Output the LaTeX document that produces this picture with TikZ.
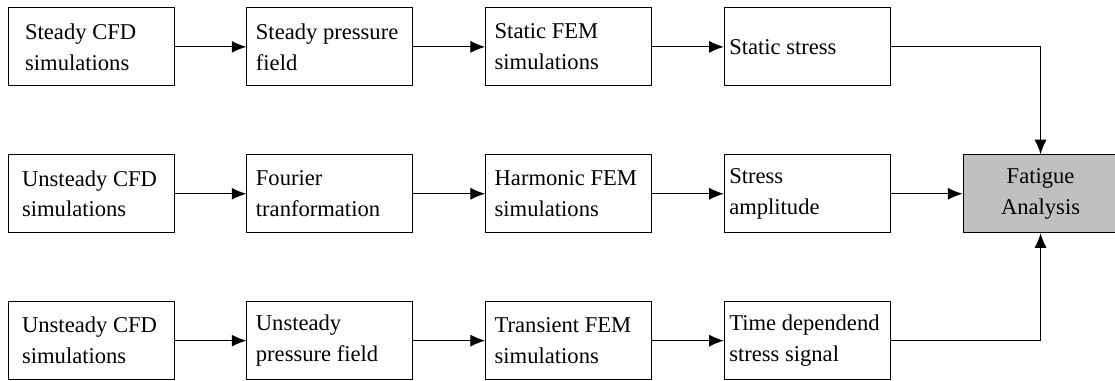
\documentclass[tikz,border=0pt]{standalone}
\usepackage{fontspec}
\setmainfont{Liberation Serif}
\usetikzlibrary{positioning,arrows.meta}
\definecolor{fatiguegray}{RGB}{192,192,192}

\tikzset{
  stage/.style={draw, line width=0.75pt, minimum height=2.06cm, align=flush left,
    inner ysep=0pt, inner xsep=#1, text width=4.39cm-2*#1,
    font=\fontsize{17}{23.25}\selectfont},
  stage/.default=0.24cm,
  flow/.style={-{Latex[length=11pt,width=9pt]}, line width=0.75pt}
}

\begin{document}
\begin{tikzpicture}[node distance=1.8cm and 1.9cm]
\useasboundingbox (0,0) rectangle (29.5,-10.08);

% steady row
\node[stage=0.45cm] (cfdA) at (2.41,-1.24) {Steady CFD\\simulations};
\node[stage, right=of cfdA] (pressA) {Steady pressure\\field};
\node[stage, right=of pressA] (femA) {Static FEM\\simulations};
\node[stage=0.13cm, right=of femA] (stressA) {Static stress};

% harmonic row
\node[stage=0.37cm, below=of cfdA] (cfdB) {Unsteady CFD\\simulations};
\node[stage, below=of pressA] (fourierB) {Fourier\\tranformation};
\node[stage, below=of femA] (femB) {Harmonic FEM\\simulations};
\node[stage=0.13cm, below=of stressA] (stressB) {Stress\\amplitude};

% transient row
\node[stage=0.37cm, below=of cfdB] (cfdC) {Unsteady CFD\\simulations};
\node[stage, below=of fourierB] (pressC) {Unsteady\\pressure field};
\node[stage, below=of femB] (femC) {Transient FEM\\simulations};
\node[stage=0.13cm, below=of stressB] (stressC) {Time dependend\\stress signal};

\node[draw, line width=0.75pt, fill=fatiguegray, minimum width=4.1cm, minimum height=2.06cm,
  align=center, font=\fontsize{17}{23.25}\selectfont, right=of stressB] (fatigue) {Fatigue\\Analysis};

\draw[flow] (cfdA) -- (pressA);
\draw[flow] (pressA) -- (femA);
\draw[flow] (femA) -- (stressA);
\draw[flow] (cfdB) -- (fourierB);
\draw[flow] (fourierB) -- (femB);
\draw[flow] (femB) -- (stressB);
\draw[flow] (cfdC) -- (pressC);
\draw[flow] (pressC) -- (femC);
\draw[flow] (femC) -- (stressC);

\draw[flow] (stressA) -| (fatigue.north);
\draw[flow] (stressB) -- (fatigue);
\draw[flow] (stressC) -| (fatigue.south);
\end{tikzpicture}
\end{document}
